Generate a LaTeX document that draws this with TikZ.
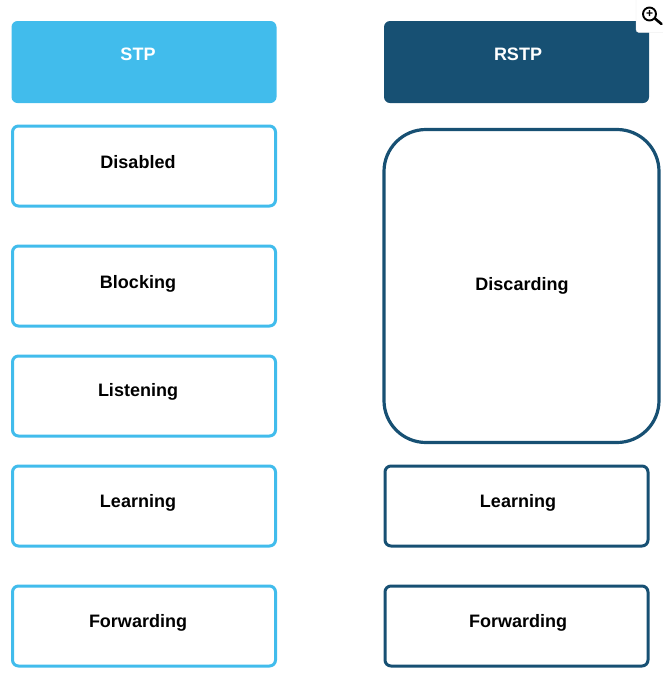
\documentclass[tikz,border=0pt]{standalone}
\usepackage{fontspec}
\setmainfont{Liberation Sans}
\usepackage{tikz}
\usetikzlibrary{positioning}

\definecolor{stpblue}{HTML}{41BCEC}
\definecolor{rstpblue}{HTML}{175073}
\definecolor{zoomedge}{HTML}{E4E4E4}

\begin{document}
\begin{tikzpicture}[
		x=1pt,
		y=-1pt,
		main node/.style={font=\bfseries\fontsize{18pt}{20pt}\selectfont},
		header node/.style={
			minimum width=265pt,
			minimum height=82pt,
			rounded corners=6pt
		},
		stp node/.style={
			draw=stpblue,
			line width=3pt,
			minimum width=263pt,
			minimum height=80pt,
			rounded corners=6pt
		},
		rstp node/.style={
			stp node,
			draw=rstpblue
		},
		label node/.style={main node, inner sep=0pt}
		]
		\useasboundingbox (0,0) rectangle (663,681);
		
		\node[header node, fill=stpblue] (stp) at (144,62) {};
		\node[header node, fill=rstpblue] (rstp) at (516.5,62) {};
		\node[label node, white] (stplabel) at (138,54.5) {STP};
		\node[label node, white] (rstplabel) at (518,54.5) {RSTP};
		
		\node[stp node] (disabled) at (144,166) {};
		\node[stp node] (blocking) at (144,286) {};
		\node[stp node] (listening) at (144,396) {};
		\node[stp node] (learning) at (144,506) {};
		\node[stp node] (forwarding) at (144,626) {};
		
		\node[rstp node, minimum width=275pt, minimum height=313pt, rounded corners=42pt, line width=3.2pt] (discarding) at (521.5,286) {};
		\node[rstp node] (rlearning) at (516.5,506) {};
		\node[rstp node] (rforwarding) at (516.5,626) {};
		
		\node[label node] (disabledlabel) at (138,162.5) {Disabled};
		\node[label node] (blockinglabel) at (138,284) {Blocking};
		\node[label node] (listeninglabel) at (138,391.5) {Listening};
		\node[label node] (learninglabel) at (138,503) {Learning};
		\node[label node] (forwardinglabel) at (138,623) {Forwarding};
		\node[label node] (discardinglabel) at (522,286) {Discarding};
		\node[label node] (rlearninglabel) at (518,503) {Learning};
		\node[label node] (rforwardinglabel) at (518,623) {Forwarding};
		
		% zoom button
		\draw[zoomedge, fill=white, rounded corners=3pt] (636,-4) rectangle (668,32.5);
		\coordinate (handle) at (661.5,24);
		\node[circle, draw=black, line width=1.9pt, minimum size=13pt, inner sep=0pt, font=\bfseries\fontsize{12pt}{12pt}\selectfont] (lens) at (649.5,14) {+};
		\draw[black, line width=2.6pt, line cap=round] (lens) -- (handle);
\end{tikzpicture}
\end{document}
